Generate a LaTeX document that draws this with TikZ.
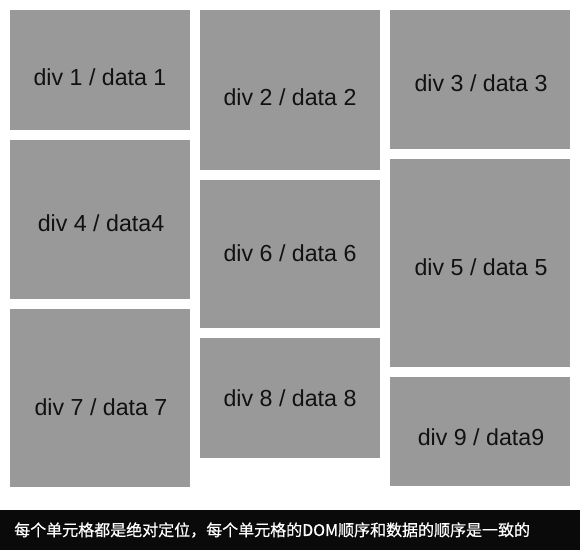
\documentclass[tikz,border=0pt]{standalone}
\usepackage{fontspec}
\setmainfont{Liberation Sans}
\newfontfamily\cjk[FakeBold=0.6]{Noto Sans CJK SC}
\definecolor{cellgray}{HTML}{999999}
\definecolor{bargray}{HTML}{0A0A0A}
\definecolor{txt}{HTML}{111111}
\begin{document}
\begin{tikzpicture}[x=1pt,y=-1pt,
  cell/.style={fill=cellgray,draw=none,inner sep=0pt,anchor=north west},
  lbl/.style={text=txt,font=\fontsize{23.2}{27}\selectfont,anchor=base,inner sep=0pt}]
\useasboundingbox (0,0) rectangle (580,550);
\fill[white] (0,0) rectangle (580,550);
% column 1
\node[cell,minimum width=180pt,minimum height=120pt] (c1) at (10,10) {};
\node[cell,minimum width=180pt,minimum height=159pt] (c4) at (10,140) {};
\node[cell,minimum width=180pt,minimum height=178pt] (c7) at (10,309) {};
% column 2
\node[cell,minimum width=180pt,minimum height=160pt] (c2) at (200,10) {};
\node[cell,minimum width=180pt,minimum height=148pt] (c6) at (200,180) {};
\node[cell,minimum width=180pt,minimum height=120pt] (c8) at (200,338) {};
% column 3
\node[cell,minimum width=180pt,minimum height=139pt] (c3) at (390,10) {};
\node[cell,minimum width=180pt,minimum height=208pt] (c5) at (390,159) {};
\node[cell,minimum width=180pt,minimum height=109pt] (c9) at (390,377) {};
% labels
\node[lbl] (t1) at (100,85) {div 1 / data 1};
\node[lbl] (t2) at (290,105) {div 2 / data 2};
\node[lbl] (t3) at (481,91) {div 3 / data 3};
\node[lbl] (t4) at (101,231) {div 4 / data4};
\node[lbl] (t6) at (290,261) {div 6 / data 6};
\node[lbl] (t5) at (481,275) {div 5 / data 5};
\node[lbl] (t7) at (101,415) {div 7 / data 7};
\node[lbl] (t8) at (290,406) {div 8 / data 8};
\node[lbl] (t9) at (481,445) {div 9 / data9};
% caption bar
\node[fill=bargray,inner sep=0pt,anchor=north west,minimum width=580pt,minimum height=40pt] (bar) at (0,510) {};
\node[anchor=west,inner sep=0pt,text=white,font=\cjk\fontsize{16}{19}\selectfont] (cap) at (14,530) {每个单元格都是绝对定位，每个单元格的DOM顺序和数据的顺序是一致的};
\end{tikzpicture}
\end{document}
